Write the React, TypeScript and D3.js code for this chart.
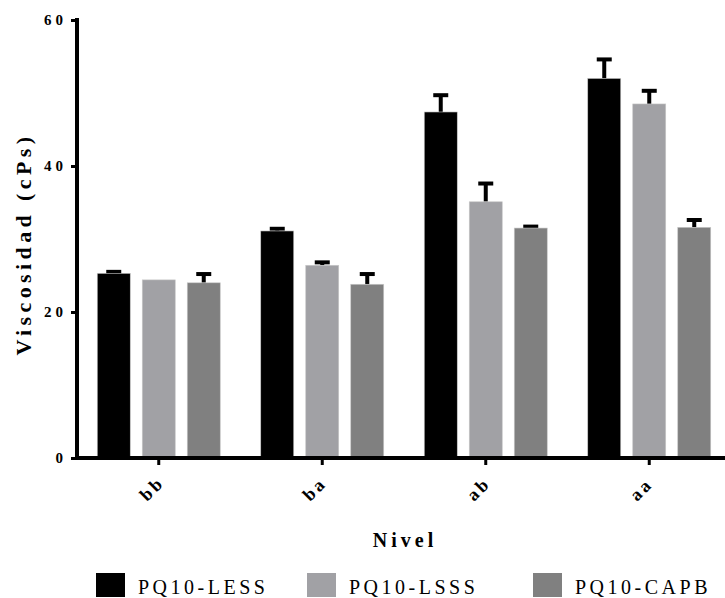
import React, { useEffect, useRef } from 'react';
import * as d3 from 'd3';

const niveles = ['bb', 'ba', 'ab', 'aa'];
const series = ['PQ10-LESS', 'PQ10-LSSS', 'PQ10-CAPB'];
const colors = ['#000000', '#a1a1a5', '#808080'];
const yTicks = [0, 20, 40, 60];

// mean values per nivel, one array per series
const lessMean = [25.3, 31.1, 47.4, 52.0];
const lsssMean = [24.4, 26.4, 35.1, 48.5];
const capbMean = [24.0, 23.8, 31.5, 31.6];
// upper error (SD)
const lessErr = [0.2, 0.3, 2.3, 2.6];
const lsssErr = [0.0, 0.4, 2.5, 1.8];
const capbErr = [1.2, 1.4, 0.2, 1.0];

const means = [lessMean, lsssMean, capbMean];
const errs = [lessErr, lsssErr, capbErr];

const width = 725;
const height = 598;
const serif = 'Liberation Serif';

const App = () => {
    const svgRef = useRef<SVGSVGElement>(null);

    const x = d3.scaleBand().domain(niveles).range([77, 731]).padding(0);
    const inner = d3.scaleBand().domain(series).range([-61.5, 61.5]).paddingInner(12 / 45);
    const y = d3.scaleLinear().domain([0, 60]).range([458, 20]);

    useEffect(() => {
        const svg = d3.select(svgRef.current);
        svg.selectAll('.axis').remove();

        const yAxis = svg.append('g')
            .attr('class', 'axis')
            .attr('transform', 'translate(77,0)')
            .call(d3.axisLeft(y).tickValues(yTicks).tickSize(6).tickPadding(4).tickSizeOuter(0));
        yAxis.attr('font-family', serif);
        yAxis.select('.domain').attr('stroke-width', 4).attr('d', `M0,${y(60) - 2}V${y(0) + 2}`);
        yAxis.selectAll('.tick line').attr('stroke-width', 3);
        yAxis.selectAll('.tick text')
            .attr('font-family', serif)
            .attr('font-weight', 'bold')
            .attr('font-size', 15)
            .attr('letter-spacing', 4)
            .attr('fill', '#000');

        const xAxis = svg.append('g')
            .attr('class', 'axis')
            .attr('transform', `translate(0,${y(0)})`)
            .call(d3.axisBottom(x).tickSize(7).tickSizeOuter(0).tickFormat(() => ''));
        xAxis.select('.domain').attr('stroke-width', 4).attr('d', 'M75,0H731');
        xAxis.selectAll('.tick line').attr('stroke-width', 3);
    }, []);

    const center = (n: string) => (x(n) ?? 0) + x.bandwidth() / 2;

    return (
        <svg ref={svgRef} width={width} height={height}
            style={{ position: 'absolute', left: 0, top: 0, background: '#fff' }}>
            {niveles.map((n, i) => {
                const cx = center(n);
                return (
                    <g key={n}>
                        {series.map((s, j) => {
                            const bx = cx + (inner(s) ?? 0);
                            const bw = inner.bandwidth();
                            const top = y(means[j][i]);
                            const eTop = y(means[j][i] + errs[j][i]);
                            const mid = bx + bw / 2;
                            return (
                                <g key={s}>
                                    {errs[j][i] > 0 && (
                                        <g stroke="#000" strokeWidth={4}>
                                            <line x1={mid} x2={mid} y1={top} y2={eTop} />
                                            <line x1={mid - 7.5} x2={mid + 7.5} y1={eTop} y2={eTop} />
                                        </g>
                                    )}
                                    <rect x={bx} y={top} width={bw} height={y(0) - top}
                                        fill={colors[j]} stroke="#c8c8c8" strokeWidth={0.6} />
                                </g>
                            );
                        })}
                    </g>
                );
            })}

            {niveles.map((n) => (
                <text key={'lbl-' + n}
                    transform={`translate(${Math.round(center(n) - 12)},${Math.round(y(0) + 44)}) rotate(-45)`}
                    fontFamily={serif} fontWeight="bold" fontSize={18} letterSpacing={3}>
                    {n}
                </text>
            ))}

            <text transform="translate(31,244) rotate(-90)" textAnchor="middle"
                fontFamily={serif} fontWeight="bold" fontSize={22} letterSpacing={4.4}>
                Viscosidad (cPs)
            </text>
            <text x={405} y={547} textAnchor="middle"
                fontFamily={serif} fontWeight="bold" fontSize={20} letterSpacing={4}>
                Nivel
            </text>

            {series.map((s, j) => {
                const lx = [96, 307, 533][j];
                return (
                    <g key={s}>
                        <rect x={lx} y={573} width={29} height={24} fill={colors[j]} />
                        <text x={lx + 42} y={594} fontFamily={serif} fontSize={20} letterSpacing={3.5}>
                            {s}
                        </text>
                    </g>
                );
            })}
        </svg>
    );
};

export default App;
